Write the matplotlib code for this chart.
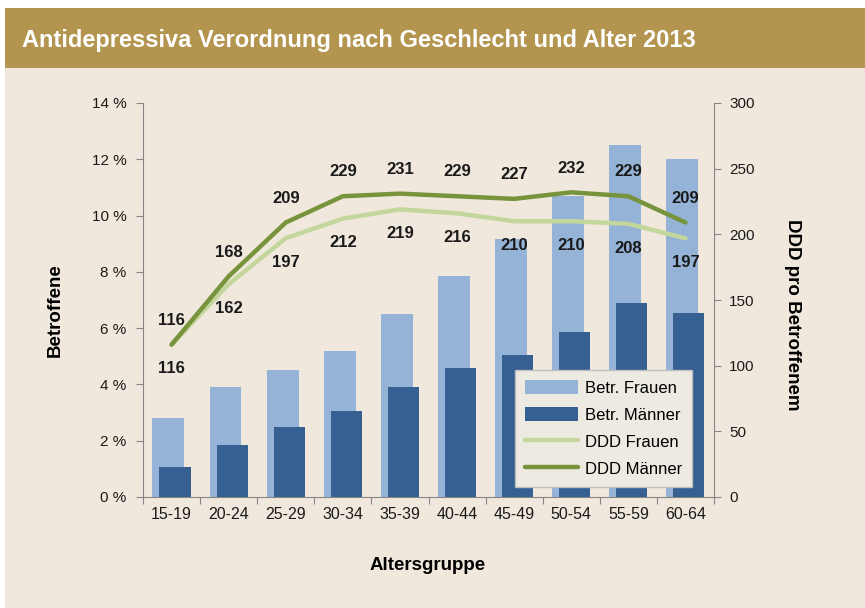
import numpy as np
import matplotlib
matplotlib.use("Agg")
import matplotlib.pyplot as plt
from matplotlib.patches import Rectangle

plt.rcParams['font.family'] = ['Liberation Sans', 'DejaVu Sans']

# data
age_groups = ["15-19", "20-24", "25-29", "30-34", "35-39",
              "40-44", "45-49", "50-54", "55-59", "60-64"]
betr_frauen = [2.8, 3.9, 4.5, 5.2, 6.5, 7.85, 9.15, 10.7, 12.5, 12.0]   # %
betr_maenner = [1.07, 1.85, 2.5, 3.05, 3.9, 4.6, 5.05, 5.85, 6.9, 6.55]  # %
ddd_frauen = [116, 162, 197, 212, 219, 216, 210, 210, 208, 197]
ddd_maenner = [116, 168, 209, 229, 231, 229, 227, 232, 229, 209]
y_left_ticks = [0, 2, 4, 6, 8, 10, 12, 14]
y_right_ticks = [0, 50, 100, 150, 200, 250, 300]

W, H = 865, 608
c_band = '#B3954F'
c_bg = '#F0E8DC'
c_fr_bar = '#95B3D7'
c_ma_bar = '#366092'
c_fr_line = '#C3D69B'
c_ma_line = '#77933C'
c_axis = '#868686'
c_text = '#1a1a1a'

fig = plt.figure(figsize=(W / 100, H / 100), dpi=100)
fig.patch.set_facecolor('white')

# background panels
fig.patches.append(Rectangle((5 / W, 0), 1, 1 - 68 / H, transform=fig.transFigure,
                             facecolor=c_bg, edgecolor='none', zorder=-10))
fig.patches.append(Rectangle((5 / W, 1 - 68 / H), 1, 60 / H, transform=fig.transFigure,
                             facecolor=c_band, edgecolor='none', zorder=-10))
fig.text(22 / W, 1 - 40 / H, "Antidepressiva Verordnung nach Geschlecht und Alter 2013",
         color='white', fontsize=17, fontweight='bold', va='center', ha='left')

ax = fig.add_axes([143 / W, 1 - 497 / H, (714 - 143) / W, (497 - 103) / H])
ax.set_facecolor('none')
ax2 = ax.twinx()

x = np.arange(len(age_groups))
ax.bar(x - 0.055, betr_frauen, width=0.56, color=c_fr_bar, label='Betr. Frauen', zorder=2)
ax.bar(x + 0.06, betr_maenner, width=0.545, color=c_ma_bar, label='Betr. Männer', zorder=3)

ax.set_xlim(-0.5, len(age_groups) - 0.5)
ax.set_ylim(0, 14)
ax.set_yticks(y_left_ticks)
ax.set_yticklabels([f"{v} %" for v in y_left_ticks])
ax.set_xticks(np.arange(-0.5, len(age_groups), 1.0))
ax.set_xticklabels([])
ax.set_xticks(x, minor=True)
ax.set_xticklabels(age_groups, minor=True)
ax.tick_params(axis='x', which='major', length=5, color=c_axis, direction='out')
ax.tick_params(axis='x', which='minor', length=0, pad=7, labelsize=11.5, labelcolor=c_text)
ax.tick_params(axis='y', length=5, color=c_axis, pad=7, labelsize=11, labelcolor=c_text)

ln_fr, = ax2.plot(x, ddd_frauen, color=c_fr_line, lw=3.2, label='DDD Frauen',
                  solid_capstyle='round', zorder=4)
ln_ma, = ax2.plot(x, ddd_maenner, color=c_ma_line, lw=3.2, label='DDD Männer',
                  solid_capstyle='round', zorder=5)
ax2.set_ylim(0, 300)
ax2.set_yticks(y_right_ticks)
ax2.tick_params(axis='y', length=5, color=c_axis, pad=6, labelsize=11, labelcolor=c_text)

for xi, v in zip(x, ddd_maenner):
    ax2.annotate(str(v), (xi, v), xytext=(0, 17.5), textcoords='offset points',
                 ha='center', va='center', fontsize=12, fontweight='bold', color=c_text)
for xi, v in zip(x, ddd_frauen):
    ax2.annotate(str(v), (xi, v), xytext=(0, -17.5), textcoords='offset points',
                 ha='center', va='center', fontsize=12, fontweight='bold', color=c_text)

for a in (ax, ax2):
    a.spines['top'].set_visible(False)
    for s in ('left', 'right', 'bottom'):
        a.spines[s].set_color(c_axis)
ax.spines['right'].set_visible(False)
ax2.spines['left'].set_visible(False)
ax2.spines['bottom'].set_visible(False)

fig.text(55 / W, 1 - 310 / H, "Betroffene", rotation=90, ha='center', va='center',
         fontsize=13.5, fontweight='bold', color='black')
fig.text(792 / W, 1 - 315 / H, "DDD pro Betroffenem", rotation=270, ha='center', va='center',
         fontsize=13.5, fontweight='bold', color='black')
fig.text(428 / W, 1 - 565 / H, "Altersgruppe", ha='center', va='center',
         fontsize=13.5, fontweight='bold', color='black')

handles, labels = ax.get_legend_handles_labels()
leg = ax2.legend(handles + [ln_fr, ln_ma], labels + ['DDD Frauen', 'DDD Männer'],
                 loc='upper left', bbox_to_anchor=(515 / W, 1 - 370 / H),
                 bbox_transform=fig.transFigure, fontsize=12, frameon=True,
                 fancybox=False, handlelength=3.2, handleheight=0.9,
                 labelspacing=0.68, borderpad=0.6, handletextpad=0.4,
                 borderaxespad=0)
leg.get_frame().set_facecolor('#EDEAE1')
leg.get_frame().set_edgecolor('#BFBFBF')
leg.get_frame().set_alpha(1)
leg.set_zorder(10)

fig.savefig('out.png', dpi=100)
